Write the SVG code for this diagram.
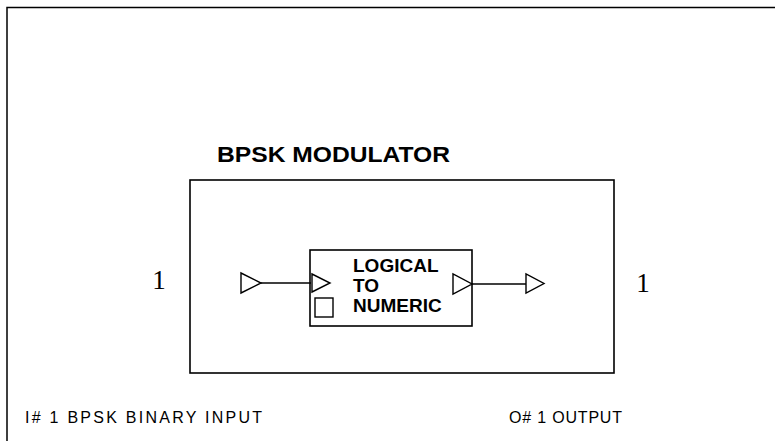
<svg xmlns="http://www.w3.org/2000/svg" width="778" height="441" viewBox="0 0 778 441">
<style>
  .frame{fill:none;stroke:#000;stroke-width:1.5}
  .box{fill:#fff;stroke:#000;stroke-width:1.6}
  .port{fill:#fff;stroke:#000;stroke-width:1.4;stroke-linejoin:miter}
  .wire{stroke:#000;stroke-width:1.3;fill:none}
  .title{font-family:"Liberation Sans",Arial,sans-serif;font-weight:bold;font-size:22px;fill:#000}
  .blk{font-family:"Liberation Sans",Arial,sans-serif;font-weight:bold;font-size:19px;fill:#000}
  .num{font-family:"Liberation Serif","Times New Roman",serif;font-size:27px;fill:#000}
  .note{font-family:"Liberation Sans",Arial,sans-serif;font-size:16px;fill:#000}
</style>
<rect width="778" height="441" fill="#fff"/>
<g id="page-frame">
  <polyline class="frame" points="7,441 7,7.5 775,7.5"/>
</g>
<g id="bpsk-modulator">
  <text class="title" x="217" y="162" textLength="233" lengthAdjust="spacingAndGlyphs">BPSK MODULATOR</text>
  <rect class="box" x="190" y="180" width="424" height="193"/>
  <polygon id="in-port" class="port" points="241,273 241,293 261,283"/>
  <polygon id="out-port" class="port" points="526,274 526,293 544,283.5"/>
  <text class="num" x="159" y="289" text-anchor="middle">1</text>
  <text class="num" x="643" y="292" text-anchor="middle">1</text>
</g>
<g id="logical-to-numeric">
  <rect class="box" x="310" y="250" width="162" height="76"/>
  <polygon class="port" points="312,274 312,292 330,283"/>
  <polygon class="port" points="453,274 453,294 472,284"/>
  <rect class="port" x="315" y="298" width="18" height="19"/>
  <text class="blk" x="353" y="272">LOGICAL</text>
  <text class="blk" x="353" y="292">TO</text>
  <text class="blk" x="353" y="312">NUMERIC</text>
</g>
<g id="connectors">
  <line class="wire" x1="261" y1="283" x2="311" y2="283"/>
  <line class="wire" x1="472" y1="284" x2="526" y2="284"/>
</g>
<g id="labels">
  <text class="note" x="25" y="423" textLength="237" lengthAdjust="spacing">I# 1 BPSK BINARY INPUT</text>
  <text class="note" x="509" y="423" textLength="113" lengthAdjust="spacing">O# 1 OUTPUT</text>
</g>
</svg>
